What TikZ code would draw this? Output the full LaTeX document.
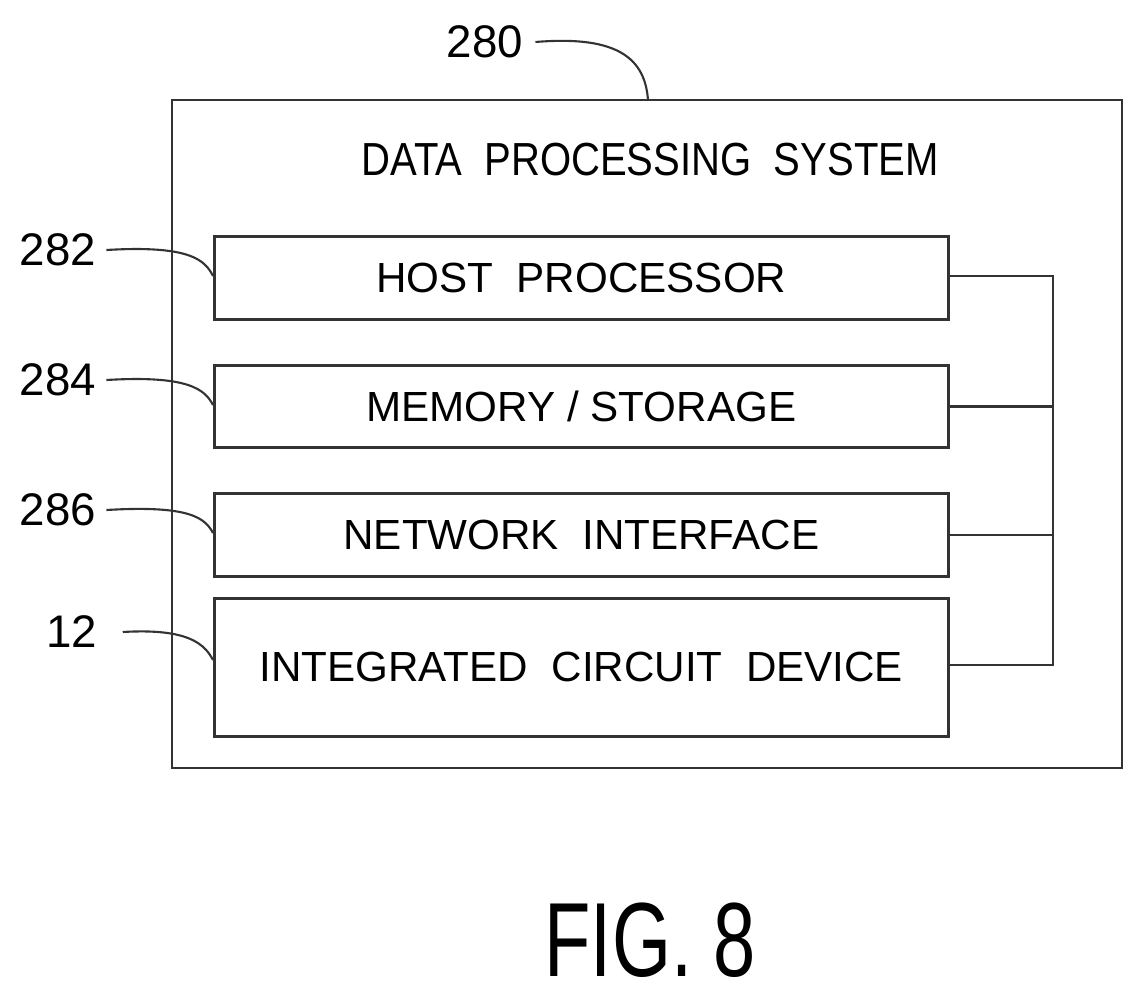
\documentclass[tikz,border=0pt]{standalone}
\usepackage{fontspec}
\setmainfont{Liberation Sans}
\usetikzlibrary{positioning}
\tikzset{
  block/.style={draw=black!80, line width=1.6pt, minimum width=14.68cm, anchor=north west, inner sep=0pt},
  lbl/.style={font=\fontsize{26}{30}\selectfont, inner sep=0pt},
  txt/.style={font=\fontsize{24}{28}\selectfont, inner sep=0pt},
  bus/.style={draw=black!80, line width=1.6pt},
  lead/.style={draw=black!80, line width=1.2pt}
}
\begin{document}
\begin{tikzpicture}[x=0.02cm,y=-0.02cm]
    \useasboundingbox (0,0) rectangle (1146,1001);

    % outer system box
    \draw[bus] (172,100) rectangle (1122,768);
    \node[txt] (title) at (650,160) {\scalebox{0.95}[1.1]{DATA\ \ PROCESSING\ \ SYSTEM}};

    % inner blocks
    \node[block, minimum height=1.66cm] (host) at (213,235) {};
    \node[txt] at (host.center) {HOST\ \ PROCESSOR};
    \node[block, minimum height=1.64cm] (mem) at (213,364) {};
    \node[txt] at (mem.center) {MEMORY / STORAGE};
    \node[block, minimum height=1.66cm] (net) at (213,492) {};
    \node[txt] at (net.center) {NETWORK\ \ INTERFACE};
    \node[block, minimum height=2.76cm] (ic) at (213,597) {};
    \node[txt] at (ic.center) {INTEGRATED\ \ CIRCUIT\ \ DEVICE};

    % bus
    \coordinate (b1) at (1053,276);
    \coordinate (b4) at (1053,665);
    \draw[bus] (host.east |- b1) -- (b1) -- (b4) -- (ic.east |- b4);
    \draw[bus] (mem.east) -- (mem.east -| b1);
    \draw[bus] (net.east) -- (net.east -| b1);

    % reference numerals
    \node[lbl] (n280) at (485,42) {280};
    \node[lbl] (n282) at (58,250) {282};
    \node[lbl] (n284) at (58,380) {284};
    \node[lbl] (n286) at (58,510) {286};
    \node[lbl] (n12) at (72,632) {12};
    \draw[lead] (n280.east) ++(12,0) .. controls (620,35) and (645,60) .. (648,100);
    \draw[lead] (n282.east) ++(10,0) .. controls (190,245) and (205,260) .. (213,276);
    \draw[lead] (n284.east) ++(10,0) .. controls (190,375) and (205,390) .. (213,405);
    \draw[lead] (n286.east) ++(10,0) .. controls (190,505) and (205,518) .. (213,533);
    \draw[lead] (n12.east) ++(25,0) .. controls (190,628) and (205,645) .. (213,660);

    \node[font=\fontsize{60}{66}\selectfont, inner sep=0pt] (fig) at (650,940) {\scalebox{0.72}[1]{FIG. 8}};
\end{tikzpicture}
\end{document}
